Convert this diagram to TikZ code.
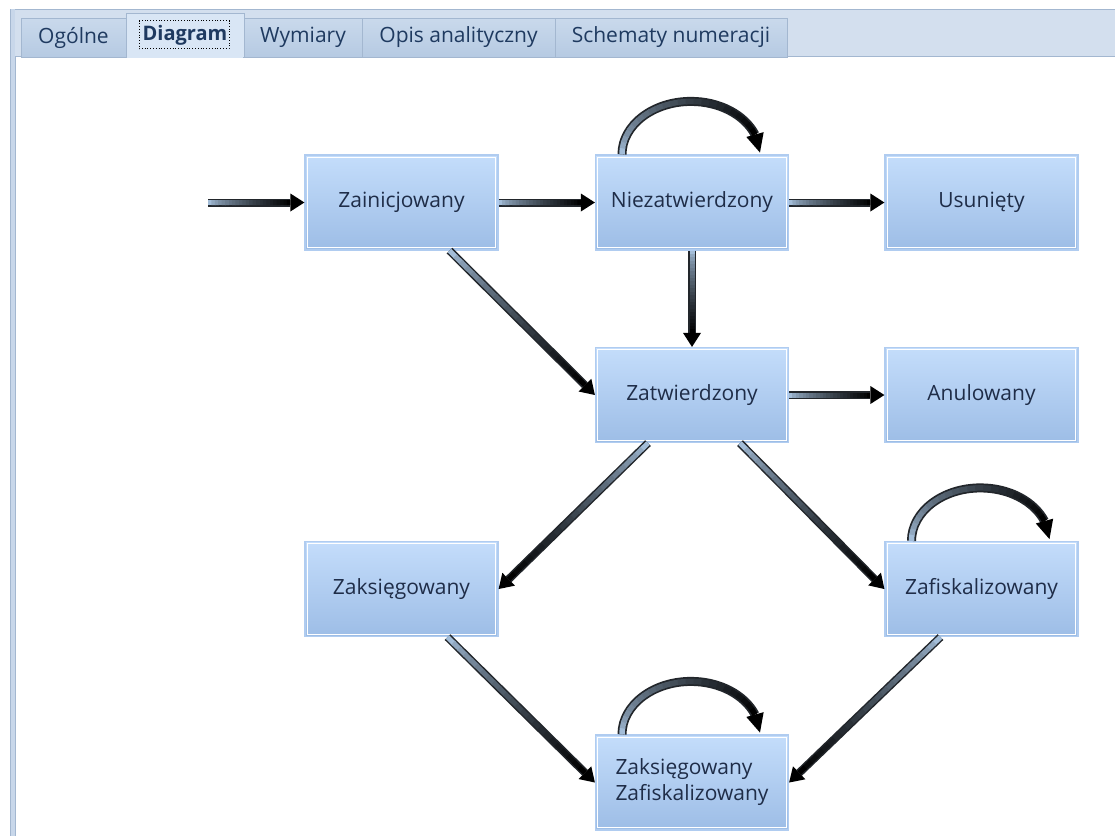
\documentclass[tikz,border=0pt]{standalone}
\usepackage{fontspec}
\setmainfont{Open Sans}
\usetikzlibrary{calc}
\definecolor{boxtop}{HTML}{C4DDFB}
\definecolor{boxbot}{HTML}{9DBDE6}
\definecolor{boxedge}{HTML}{B0CCF0}
\definecolor{txt}{HTML}{1F2D48}
\definecolor{alight}{HTML}{A3BDD8}
\definecolor{aedge}{HTML}{22262B}
\definecolor{barbg}{HTML}{D3DFEE}
\definecolor{barline}{HTML}{A3B7D0}
\definecolor{tabtop}{HTML}{C9D9EC}
\definecolor{tabbot}{HTML}{B6CAE2}
\definecolor{tabsel}{HTML}{D9E6F5}
\definecolor{tabtxt}{HTML}{1F3A60}
\definecolor{sideband}{HTML}{C8D7EA}

\newcommand\gline[2]{%
 \coordinate (gS) at (#1);
 \coordinate (gE) at (#2);
 \coordinate (gB) at ($(gE)!14pt!(gS)$);
 \draw[line width=8pt, aedge] (gS) -- (gB);
 \foreach \i in {0,...,23}{
   \pgfmathsetmacro\ta{\i/24}
   \pgfmathsetmacro\tb{min(1,(\i+1.2)/24)}
   \pgfmathtruncatemacro\pc{100*(\i/23)^0.7}
   \draw[line width=5pt, black!\pc!alight] ($(gS)!\ta!(gB)$) -- ($(gS)!\tb!(gB)$);
 }
 \fill[black] (gE) -- ($(gB)!9pt!90:(gE)$) -- ($(gB)!9pt!-90:(gE)$) -- cycle;
}

\newcommand\gloop[1]{%
  \coordinate (lC) at ($(#1.north)+(-1,0)$);
  \draw[line width=9pt, aedge] ($(lC)+(180:69pt and 53pt)$) arc[start angle=180, end angle=22, x radius=69pt, y radius=53pt];
  \foreach \i in {0,...,23}{
    \pgfmathsetmacro\aa{180-\i*158/24}
    \pgfmathsetmacro\ab{max(22,180-(\i+1.2)*158/24)}
    \pgfmathtruncatemacro\pc{100*(\i/23)^0.7}
    \draw[line width=5.5pt, black!\pc!alight] ($(lC)+(\aa:69pt and 53pt)$) arc[start angle=\aa, end angle=\ab, x radius=69pt, y radius=53pt];
  }
  \coordinate (lB) at ($(lC)+(22:69pt and 53pt)$);
  \coordinate (lT) at ($(lC)+(2:69pt and 53pt)$);
  \fill[black] (lT) -- ($(lB)!9pt!90:(lT)$) -- ($(lB)!9pt!-90:(lT)$) -- cycle;
}

\begin{document}
\begin{tikzpicture}[x=1pt,y=-1pt,
  box/.style={minimum width=193pt, minimum height=95pt, inner sep=0pt,
    draw=boxedge, line width=1.2pt, top color=boxtop, bottom color=boxbot,
    text=txt, font=\fontsize{21}{26}\selectfont},
  tab/.style={minimum height=39pt, inner sep=0pt, draw=barline, line width=1pt,
    top color=tabtop, bottom color=tabbot, text=tabtxt, font=\fontsize{21}{26}\selectfont},
  seltab/.style={tab, minimum height=44pt, top color=tabsel, bottom color=tabsel,
    font=\fontsize{20}{26}\selectfont\bfseries}
]
\useasboundingbox (0,0) rectangle (1115,836);
\fill[white] (0,0) rectangle (1115,836);

% tab bar and frame
\fill[barbg] (10,9) rectangle (1115,57);
\draw[barline, line width=1.2pt] (10,9.5) -- (1115,9.5);
\draw[barline, line width=1.2pt] (10,56.5) -- (1115,56.5);
\fill[sideband] (10,9) rectangle (15,836);
\draw[barline, line width=1pt] (10.5,9) -- (10.5,836);
\draw[barline, line width=1pt] (15,56) -- (15,836);

\node[tab, minimum width=105pt] (t1) at (73.5,37.5) {Ogólne};
\node[tab, minimum width=118pt] (t3) at (303,37.5) {Wymiary};
\node[tab, minimum width=193pt] (t4) at (458.5,37.5) {Opis analityczny};
\node[tab, minimum width=232pt] (t5) at (671,37.5) {Schematy numeracji};
\node[seltab, minimum width=118pt] (t2) at (185,35) {Diagram};
\fill[tabsel] (127,55) rectangle (243,58);
\draw[black, dotted, line width=0.8pt] (139,20.5) rectangle (229,48.5);

% states
\node[box] (zain) at (401.5,202.5) {Zainicjowany};
\node[box] (niez) at (692,202.5) {Niezatwierdzony};
\node[box] (usun) at (981.5,202.5) {Usunięty};
\node[box] (zatw) at (692,395) {Zatwierdzony};
\node[box] (anul) at (981.5,395) {Anulowany};
\node[box] (zaks) at (401.5,589) {Zaksięgowany};
\node[box] (zafi) at (981.5,589) {Zafiskalizowany};
\node[box, align=left] (zz) at (692,782.5) {Zaksięgowany\\Zafiskalizowany};
\foreach \n in {zain,niez,usun,zatw,anul,zaks,zafi,zz}{
  \draw[white, line width=1pt] ($(\n.south west)+(3,-3)$) rectangle ($(\n.north east)+(-3,3)$);
}

% connectors
\coordinate (start) at (208,202.5);
\gline{start}{zain.west}
\gline{zain.east}{niez.west}
\gline{niez.east}{usun.west}
\gline{niez.south}{zatw.north}
\gline{zatw.east}{anul.west}
\gline{$(zain.south)+(48,0)$}{zatw.west}
\gline{$(zatw.south)+(-44,0)$}{zaks.east}
\gline{$(zatw.south)+(48,0)$}{zafi.west}
\gline{$(zaks.south)+(46,0)$}{zz.west}
\gline{$(zafi.south)+(-41,0)$}{zz.east}

\gloop{niez}
\gloop{zafi}
\gloop{zz}
\end{tikzpicture}
\end{document}
